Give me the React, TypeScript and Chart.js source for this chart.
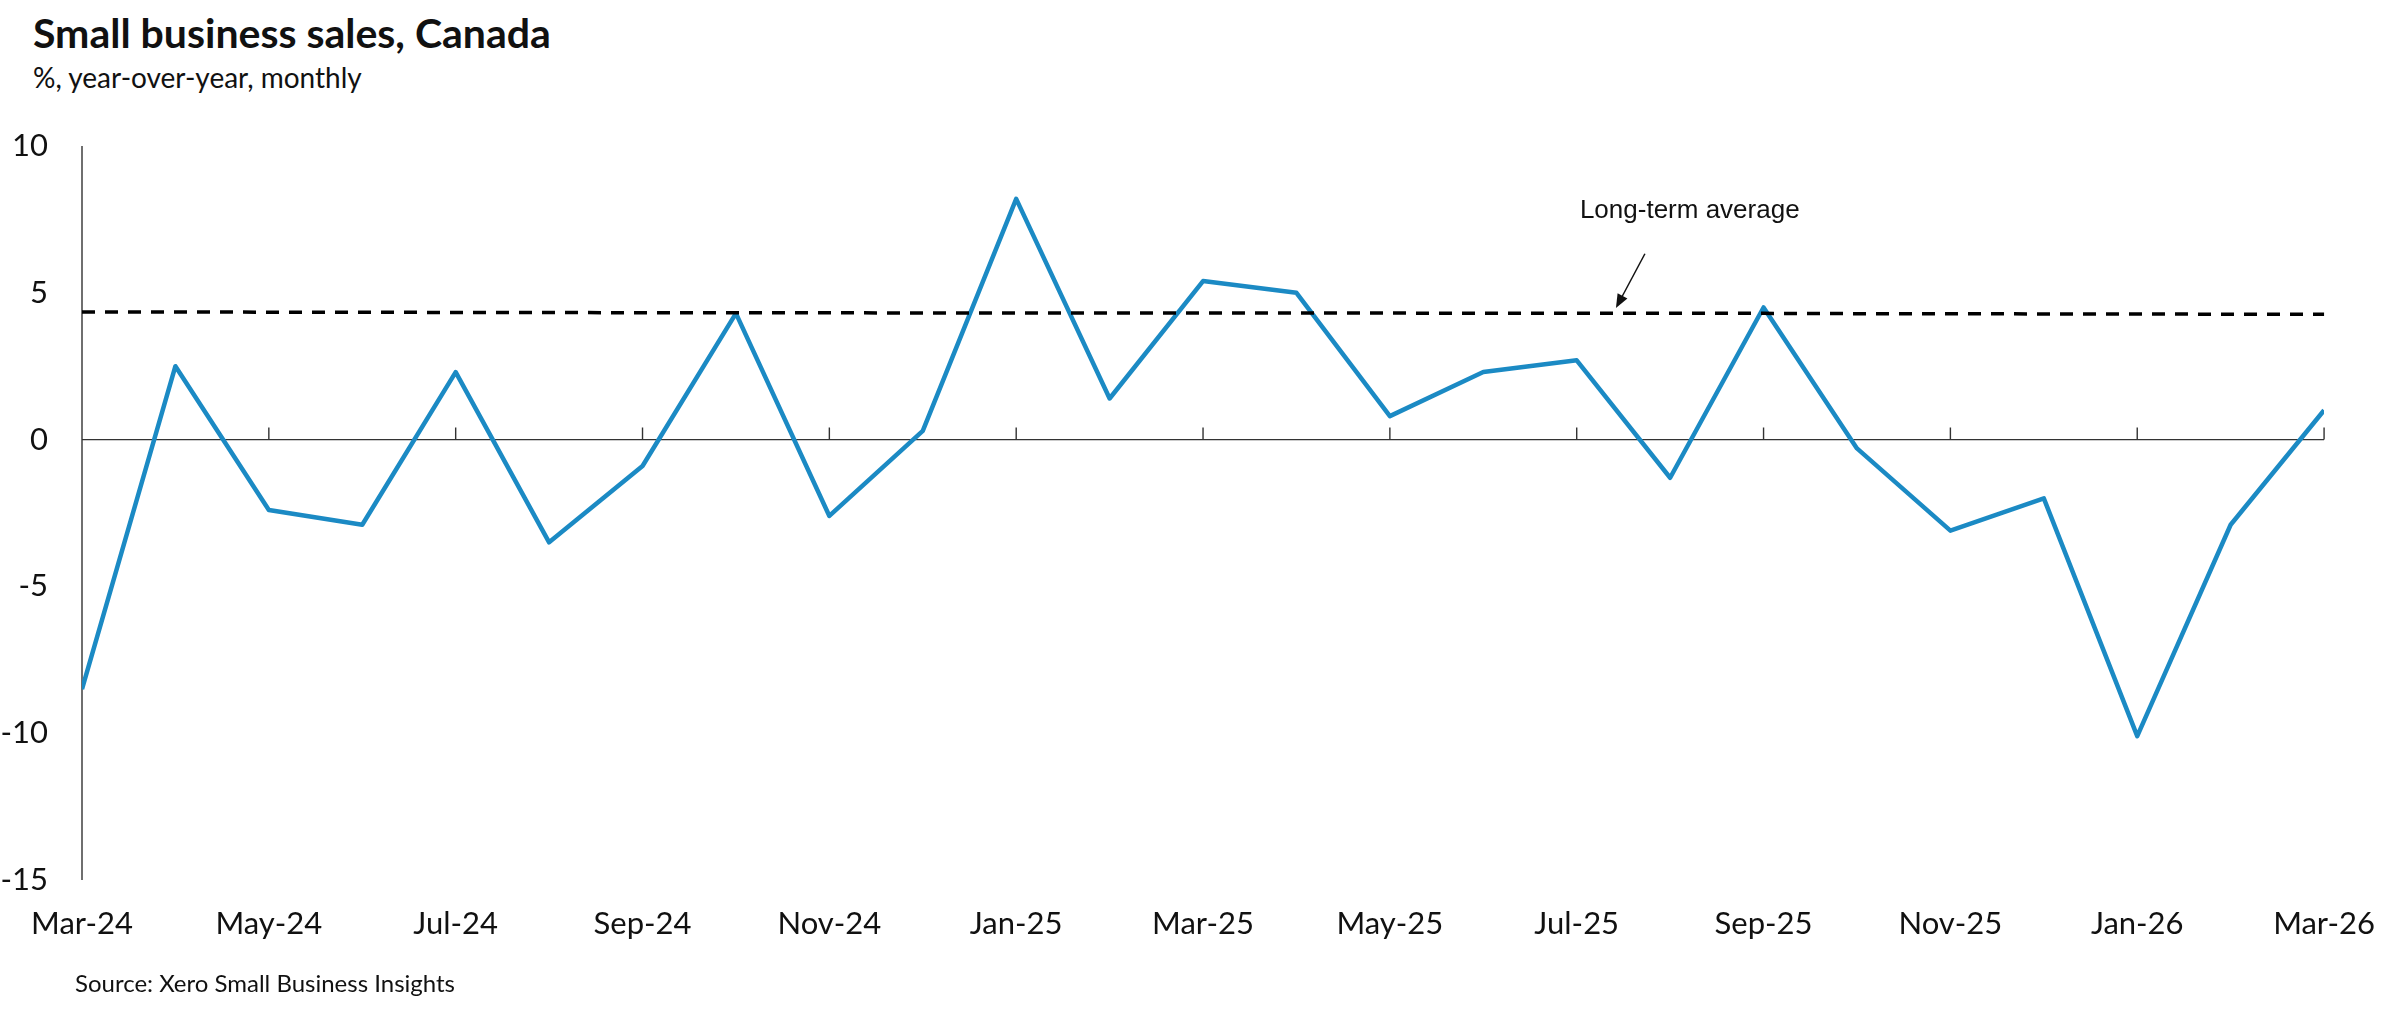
'use client';

import React, { useEffect, useRef } from 'react';
import { Chart, registerables } from 'chart.js';

Chart.register(...registerables);

// x axis categories, one per month
const months = [
    'Mar-24', 'Apr-24', 'May-24', 'Jun-24', 'Jul-24', 'Aug-24', 'Sep-24', 'Oct-24', 'Nov-24',
    'Dec-24', 'Jan-25', 'Feb-25', 'Mar-25', 'Apr-25', 'May-25', 'Jun-25', 'Jul-25', 'Aug-25',
    'Sep-25', 'Oct-25', 'Nov-25', 'Dec-25', 'Jan-26', 'Feb-26', 'Mar-26',
];

// Small business sales, % year-over-year
const salesGrowth = [
    -8.5, 2.5, -2.4, -2.9, 2.3, -3.5, -0.9, 4.3, -2.6, 0.3, 8.2, 1.4, 5.4,
    5.0, 0.8, 2.3, 2.7, -1.3, 4.5, -0.3, -3.1, -2.0, -10.1, -2.9, 1.0,
];

// Long-term average (dashed line), drifts down very slightly
const longTermAverage = [
    4.35, 4.35, 4.34, 4.34, 4.33, 4.33, 4.32, 4.32, 4.32, 4.31, 4.31, 4.31, 4.31,
    4.31, 4.31, 4.30, 4.30, 4.30, 4.30, 4.29, 4.29, 4.28, 4.28, 4.27, 4.27,
];
// the dashed line runs a little past the last month
const averageTail = { x: 24.28, y: 4.27 };

// y axis
const yMin = -15;
const yMax = 10;
const yStep = 5;

// "Long-term average" call-out, in data units
const calloutText = 'Long-term average';
const calloutPos = { x: 17.21, y: 7.79 };
const arrowFrom = { x: 16.73, y: 6.33 };
const arrowTo = { x: 16.42, y: 4.48 };

const FONT = 'Lato';

// zero line with upward ticks + the y axis line
const axisLines = {
    id: 'axisLines',
    beforeDatasetsDraw(chart: Chart) {
        const { ctx, scales: { x, y } } = chart;
        const zeroY = y.getPixelForValue(0);
        ctx.save();
        ctx.strokeStyle = '#333333';
        ctx.lineWidth = 1.4;
        ctx.beginPath();
        ctx.moveTo(x.left, y.top);
        ctx.lineTo(x.left, y.bottom);
        ctx.moveTo(x.left, zeroY);
        ctx.lineTo(x.right, zeroY);
        x.ticks.forEach((t) => {
            const px = x.getPixelForValue(t.value);
            ctx.moveTo(px, zeroY);
            ctx.lineTo(px, zeroY - 12);
        });
        ctx.stroke();
        ctx.restore();
    },
};

// text + arrow pointing at the dashed line
const callout = {
    id: 'callout',
    afterDatasetsDraw(chart: Chart) {
        const { ctx, scales: { x, y } } = chart;
        ctx.save();
        ctx.fillStyle = '#111111';
        ctx.font = '26px "Liberation Sans", Arial, sans-serif';
        ctx.textAlign = 'center';
        ctx.textBaseline = 'middle';
        ctx.fillText(calloutText, x.getPixelForValue(calloutPos.x), y.getPixelForValue(calloutPos.y));

        const x1 = x.getPixelForValue(arrowFrom.x);
        const y1 = y.getPixelForValue(arrowFrom.y);
        const x2 = x.getPixelForValue(arrowTo.x);
        const y2 = y.getPixelForValue(arrowTo.y);
        const ang = Math.atan2(y2 - y1, x2 - x1);
        const head = 15;
        ctx.strokeStyle = '#111111';
        ctx.lineWidth = 1.5;
        ctx.beginPath();
        ctx.moveTo(x1, y1);
        ctx.lineTo(x2 - Math.cos(ang) * head * 0.8, y2 - Math.sin(ang) * head * 0.8);
        ctx.stroke();
        ctx.beginPath();
        ctx.moveTo(x2, y2);
        ctx.lineTo(x2 - head * Math.cos(ang - 0.38), y2 - head * Math.sin(ang - 0.38));
        ctx.lineTo(x2 - head * Math.cos(ang + 0.38), y2 - head * Math.sin(ang + 0.38));
        ctx.closePath();
        ctx.fill();
        ctx.restore();
    },
};

export default function App() {
    const canvasRef = useRef<HTMLCanvasElement>(null);

    useEffect(() => {
        if (!canvasRef.current) return;
        const chart = new Chart(canvasRef.current, {
            type: 'line',
            data: {
                datasets: [
                    {
                        label: 'Long-term average',
                        data: [...longTermAverage.map((v, i) => ({ x: i, y: v })), averageTail],
                        borderColor: '#000000',
                        borderWidth: 3.5,
                        borderDash: [13, 10],
                        pointRadius: 0,
                        clip: false,
                    },
                    {
                        label: 'Small business sales',
                        data: salesGrowth.map((v, i) => ({ x: i, y: v })),
                        borderColor: '#1B8AC4',
                        borderWidth: 4.5,
                        borderJoinStyle: 'round',
                        pointRadius: 0,
                        tension: 0,
                    },
                ],
            },
            options: {
                animation: false,
                responsive: true,
                maintainAspectRatio: false,
                layout: { padding: { top: 146, right: 66, bottom: 0, left: 0 } },
                plugins: { legend: { display: false }, tooltip: { enabled: false } },
                scales: {
                    x: {
                        type: 'linear',
                        min: 0,
                        max: months.length - 1,
                        afterFit: (s: any) => { s.height = 130; },
                        border: { display: false },
                        grid: { display: false, drawTicks: false },
                        ticks: {
                            stepSize: 2,
                            autoSkip: false,
                            maxRotation: 0,
                            padding: 25,
                            color: '#111111',
                            font: { family: FONT, size: 31 },
                            callback: (v: any) => months[Number(v)] ?? '',
                        },
                    },
                    y: {
                        min: yMin,
                        max: yMax,
                        afterFit: (s: any) => { s.width = 82; },
                        border: { display: false },
                        grid: { display: false, drawTicks: false },
                        ticks: {
                            stepSize: yStep,
                            padding: 34,
                            color: '#111111',
                            font: { family: FONT, size: 31 },
                        },
                    },
                },
            },
            plugins: [axisLines, callout],
        });
        return () => chart.destroy();
    }, []);

    return (
        <div style={{ position: 'absolute', left: 0, top: 0, width: 2400, height: 1010, background: '#fff', fontFamily: FONT, color: '#111' }}>
            <div style={{ position: 'absolute', left: 33, top: 12, fontSize: 41, lineHeight: 1, fontWeight: 700, whiteSpace: 'nowrap' }}>
                Small business sales, Canada
            </div>
            <div style={{ position: 'absolute', left: 33, top: 63, fontSize: 28, lineHeight: 1, whiteSpace: 'nowrap' }}>
                %, year-over-year, monthly
            </div>
            <div style={{ position: 'absolute', left: 0, top: 0, width: 2400, height: 1010 }}>
                <canvas ref={canvasRef}></canvas>
            </div>
            <div style={{ position: 'absolute', left: 75, top: 971, fontSize: 24, lineHeight: 1, whiteSpace: 'nowrap' }}>
                Source: Xero Small Business Insights
            </div>
        </div>
    );
}
